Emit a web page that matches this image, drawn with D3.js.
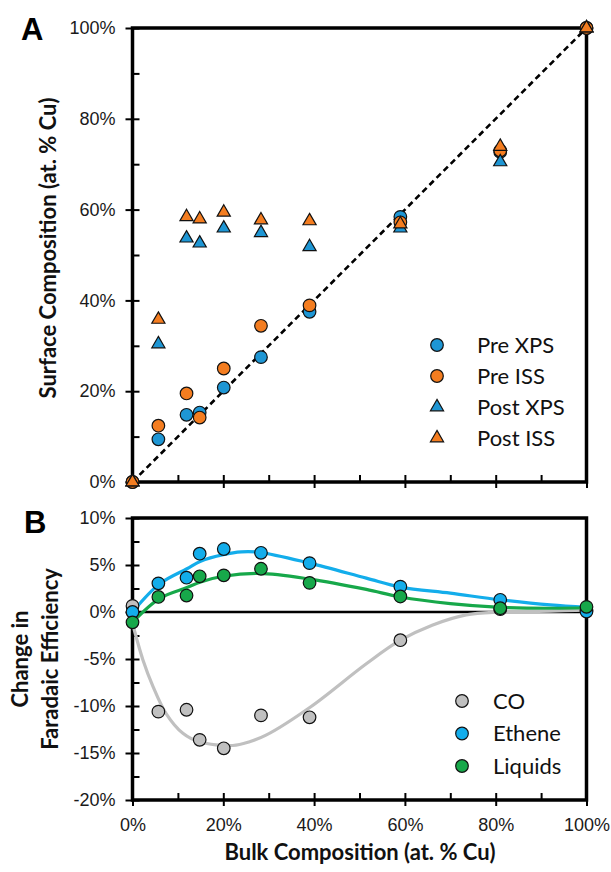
<!DOCTYPE html>
<html>
<head>
<meta charset="utf-8">
<script src="https://cdn.jsdelivr.net/npm/d3@7"></script>
<style>
  body { margin: 0; background: #fff; }
  svg { display: block; font-family: Lato, "Open Sans", sans-serif; }
</style>
</head>
<body>
<svg id="chart" width="611" height="872"></svg>
<script>
// bulk Cu content of each sample (at. %)
const bulk = [0, 5.7, 11.9, 14.8, 20.1, 28.3, 39.0, 59.0, 81.0, 100];

// panel A - surface composition
const preXPS = [0, 9.4, 14.8, 15.3, 20.8, 27.5, 37.5, 58.4, 72.7, 100];
const preISS = [0, 12.4, 19.5, 14.2, 25.0, 34.4, 38.9, 57.2, 73.0, 100];
const postXPS = [0, 30.4, 53.7, 52.6, 55.9, 54.9, 51.8, 55.9, 70.5, 100];
const postISS = [0, 35.8, 58.4, 57.9, 59.4, 57.7, 57.5, 56.8, 73.9, 100];

// panel B - change in faradaic efficiency (%)
const co = [0.65, -10.6, -10.4, -13.6, -14.5, -11.0, -11.2, -3.0, 0.3, 0.2];
const ethene = [0, 3.05, 3.65, 6.2, 6.7, 6.3, 5.2, 2.7, 1.3, 0.05];
const liquids = [-1.1, 1.6, 1.75, 3.8, 3.9, 4.6, 3.1, 1.65, 0.4, 0.55];

// trend curves
const coFitX = [0, 2.3, 4.5, 7.4, 11.1, 14.7, 22.1, 25.8, 29.4, 39.2, 51.5, 59, 66, 73.5, 81, 92, 100];
const coFit = [-1.2, -5.1, -7.9, -10.8, -12.9, -13.8, -14.2, -13.8, -13.1, -10.1, -5.5, -3.0, -1.4, -0.3, 0, 0.1, 0.2];
const etheneFitX = [0, 6, 12, 15, 20, 24, 28, 39, 51.5, 59, 70, 81, 92, 100];
const etheneFit = [0, 3.0, 4.6, 5.4, 6.1, 6.4, 6.35, 5.2, 3.6, 2.65, 2.0, 1.3, 0.75, 0.5];
const liquidsFitX = [0, 6, 12, 15, 20, 28, 39, 51.5, 59, 70, 81, 92, 100];
const liquidsFit = [-1.1, 1.45, 2.6, 3.2, 3.8, 4.1, 3.5, 2.4, 1.6, 0.9, 0.5, 0.4, 0.45];

const xTicks = [0, 20, 40, 60, 80, 100];
const yTicksA = [0, 20, 40, 60, 80, 100];
const yTicksB = [-20, -15, -10, -5, 0, 5, 10];

const blue = "#1E96D4", orange = "#F47D20";
const grey = "#C0C0C0", cyan = "#13ADEB", green = "#17A84A";

const svg = d3.select("#chart");
const pct = (d) => d + "%";

const x = d3.scaleLinear().domain([0, 100]).range([132.5, 586.5]);
const yA = d3.scaleLinear().domain([0, 100]).range([482, 28]);
const yB = d3.scaleLinear().domain([-20, 10]).range([800, 518]);

function drawAxes(y, yMajor, yMinor, showXLabels) {
  const g = svg.append("g");
  const [yb, yt] = y.range();
  const x0 = x.range()[0];

  // left axis: labels + outer half of major ticks
  const left = g.append("g")
    .attr("transform", `translate(${x0},0)`)
    .call(d3.axisLeft(y).tickValues(yMajor).tickSize(7).tickPadding(10).tickFormat(pct));
  left.selectAll("text").style("font-size", "18px").attr("fill", "#1a1a1a");
  // inner ticks (major + minor)
  g.append("g")
    .attr("transform", `translate(${x0},0)`)
    .call(d3.axisRight(y).tickValues(yMinor).tickSize(7).tickFormat(""));

  // bottom axis
  const bottom = g.append("g")
    .attr("transform", `translate(0,${yb})`)
    .call(d3.axisBottom(x).tickValues(xTicks).tickSize(6).tickPadding(12)
      .tickFormat(showXLabels ? pct : ""));
  bottom.selectAll("text").style("font-size", "18px").attr("fill", "#1a1a1a");
  g.append("g")
    .attr("transform", `translate(0,${yb})`)
    .call(d3.axisTop(x).tickValues(d3.range(0, 101, 10)).tickSize(7).tickFormat(""));

  g.selectAll(".domain").remove();
  g.selectAll("line").attr("stroke", "#000").attr("stroke-width", 2);

  // frame
  g.append("rect")
    .attr("x", x0).attr("y", yt)
    .attr("width", x.range()[1] - x0).attr("height", yb - yt)
    .attr("fill", "none").attr("stroke", "#000").attr("stroke-width", 3.5);
}

// ---------- panel A ----------
drawAxes(yA, yTicksA, d3.range(0, 101, 10), false);

svg.append("line")
  .attr("x1", x(0)).attr("y1", yA(0))
  .attr("x2", x(100)).attr("y2", yA(100))
  .attr("stroke", "#000").attr("stroke-width", 2.6)
  .attr("stroke-dasharray", "6,4");

const tri = d3.symbol().type(d3.symbolTriangle).size(75);

function circles(values, color, y) {
  svg.append("g").selectAll("circle")
    .data(values)
    .join("circle")
    .attr("cx", (d, i) => x(bulk[i]))
    .attr("cy", (d) => y(d))
    .attr("r", 6.3)
    .attr("fill", color)
    .attr("stroke", "#111")
    .attr("stroke-width", 1.2);
}

function triangles(values, color) {
  svg.append("g").selectAll("path")
    .data(values)
    .join("path")
    .attr("d", tri)
    .attr("transform", (d, i) => `translate(${x(bulk[i])},${yA(d)})`)
    .attr("fill", color)
    .attr("stroke", "#111")
    .attr("stroke-width", 1.2);
}

circles(preXPS, blue, yA);
circles(preISS, orange, yA);
triangles(postXPS, blue);
triangles(postISS, orange);

// legend A
const legA = [
  { name: "Pre XPS", color: blue, shape: "c" },
  { name: "Pre ISS", color: orange, shape: "c" },
  { name: "Post XPS", color: blue, shape: "t" },
  { name: "Post ISS", color: orange, shape: "t" },
];
legA.forEach((d, i) => {
  const ly = 345 + i * 31;
  if (d.shape === "c") {
    svg.append("circle").attr("cx", 437).attr("cy", ly).attr("r", 6.3)
      .attr("fill", d.color).attr("stroke", "#111").attr("stroke-width", 1.2);
  } else {
    svg.append("path").attr("d", tri).attr("transform", `translate(437,${ly})`)
      .attr("fill", d.color).attr("stroke", "#111").attr("stroke-width", 1.2);
  }
  svg.append("text").attr("x", 477).attr("y", ly).attr("dy", "0.36em")
    .style("font-size", "22px").attr("fill", "#111").text(d.name);
});

// ---------- panel B ----------
drawAxes(yB, yTicksB, d3.range(-20, 10.1, 2.5), true);

svg.append("line")
  .attr("x1", x(0)).attr("x2", x(100))
  .attr("y1", yB(0)).attr("y2", yB(0))
  .attr("stroke", "#000").attr("stroke-width", 2.6);

const curve = d3.line()
  .x((d) => x(d[0]))
  .y((d) => yB(d[1]))
  .curve(d3.curveCatmullRom.alpha(0.5));

function fit(xs, ys, color) {
  svg.append("path")
    .attr("d", curve(xs.map((v, i) => [v, ys[i]])))
    .attr("fill", "none")
    .attr("stroke", color)
    .attr("stroke-width", 3.2);
}
fit(coFitX, coFit, grey);
fit(etheneFitX, etheneFit, cyan);
fit(liquidsFitX, liquidsFit, green);

circles(co, grey, yB);
circles(ethene, cyan, yB);
circles(liquids, green, yB);

// legend B
[
  { name: "CO", color: grey },
  { name: "Ethene", color: cyan },
  { name: "Liquids", color: green },
].forEach((d, i) => {
  const ly = 701 + i * 32.5;
  svg.append("circle").attr("cx", 462).attr("cy", ly).attr("r", 6.3)
    .attr("fill", d.color).attr("stroke", "#111").attr("stroke-width", 1.2);
  svg.append("text").attr("x", 493).attr("y", ly).attr("dy", "0.36em")
    .style("font-size", "22px").attr("fill", "#111").text(d.name);
});

// ---------- titles ----------
function title(tx, ty, rot, txt) {
  svg.append("text")
    .attr("transform", `translate(${tx},${ty}) rotate(${rot})`)
    .attr("text-anchor", "middle")
    .style("font-size", "22px").style("font-weight", "bold")
    .attr("fill", "#111")
    .text(txt);
}
title(56, 248, -90, "Surface Composition (at. % Cu)");
title(28, 659, -90, "Change in");
title(58, 659, -90, "Faradaic Efficiency");
title(360, 860, 0, "Bulk Composition (at. % Cu)");

// panel letters
svg.append("text").attr("x", 21).attr("y", 40)
  .style("font-family", "'Liberation Sans', Arial, sans-serif")
  .style("font-size", "31px").style("font-weight", "bold").text("A");
svg.append("text").attr("x", 24).attr("y", 533)
  .style("font-family", "'Liberation Sans', Arial, sans-serif")
  .style("font-size", "31px").style("font-weight", "bold").text("B");
</script>
</body>
</html>
